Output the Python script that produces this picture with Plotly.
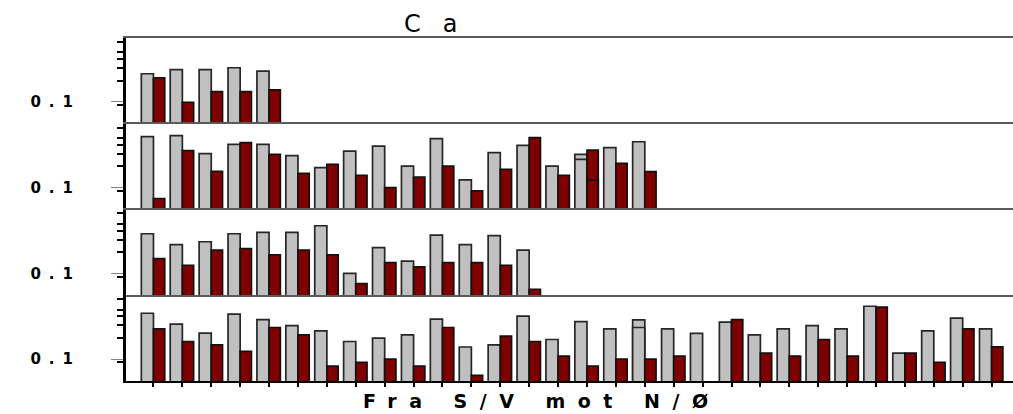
import plotly.graph_objects as go
from plotly.subplots import make_subplots

# ---- data (log scale) ----
panel1_grey = [0.249, 0.284, 0.284, 0.303, 0.271]
panel1_red = [0.218, 0.098, 0.139, 0.139, 0.147]

panel2_grey = [0.523, 0.540, 0.301, 0.407, 0.407, 0.282, 0.191, 0.328, 0.385,
               0.201, 0.490, 0.128, 0.311, 0.394, 0.201, 0.294, 0.366, 0.444]
panel2_red = [0.070, 0.332, 0.170, 0.430, 0.294, 0.159, 0.213, 0.149, 0.100,
              0.141, 0.201, 0.0896, 0.181, 0.506, 0.149, 0.339, 0.220, 0.168]
panel2_grey_dup = [None] * 15 + [0.250] + [None] * 2
panel2_red_dup = [None] * 15 + [0.128] + [None] * 2

panel3_grey = [0.362, 0.254, 0.279, 0.362, 0.378, 0.378, 0.470, 0.100, 0.230,
               0.149, 0.346, 0.254, 0.340, 0.213]
panel3_red = [0.161, 0.130, 0.213, 0.223, 0.183, 0.213, 0.183, 0.0716, 0.142,
              0.123, 0.142, 0.142, 0.130, 0.0595]

panel4_grey = [0.444, 0.311, 0.232, 0.430, 0.361, 0.297, 0.250, 0.177, 0.198, 0.220,
               0.366, 0.148, 0.159, 0.403, 0.189, 0.339, 0.267, 0.358, 0.267, 0.230,
               0.332, 0.220, 0.267, 0.297, 0.267, 0.557, 0.121, 0.250, 0.378, 0.267]
panel4_red = [0.267, 0.177, 0.159, 0.128, 0.279, 0.220, 0.0797, 0.0896, 0.100, 0.0797,
              0.279, 0.0587, 0.211, 0.177, 0.110, 0.0797, 0.100, 0.100, 0.110, None,
              0.361, 0.121, 0.110, 0.189, 0.110, 0.540, 0.121, 0.0896, 0.267, 0.149]
panel4_grey_dup = [None] * 17 + [0.279] + [None] * 12

panels = [
    (panel1_grey, panel1_red, None, None),
    (panel2_grey, panel2_red, panel2_grey_dup, panel2_red_dup),
    (panel3_grey, panel3_red, None, None),
    (panel4_grey, panel4_red, panel4_grey_dup, None),
]

title_text = "Ca"
xtitle_text = "Fra S/V mot N/Ø"
ytick_label = "0.1"

GREY = "#c0c0c0"
RED = "#800000"
EDGE = "#262626"
FONT = "DejaVu Sans, Liberation Sans, Arial"

fig = make_subplots(rows=4, cols=1, vertical_spacing=0)


def grey_bar(vals):
    return go.Bar(x=list(range(len(vals))), y=vals, marker=dict(color=GREY, line=dict(color=EDGE, width=1.7)),
                  offset=-0.42, width=0.42, showlegend=False, hoverinfo="y")


def red_bar(vals):
    return go.Bar(x=list(range(len(vals))), y=vals, marker=dict(color=RED, line=dict(color="#111111", width=1.7)),
                  offset=0.0, width=0.39, showlegend=False, hoverinfo="y")


for r, (g, rd, gd, rdd) in enumerate(panels, start=1):
    fig.add_trace(grey_bar(g), row=r, col=1)
    if gd is not None:
        fig.add_trace(grey_bar(gd), row=r, col=1)
    fig.add_trace(red_bar(rd), row=r, col=1)
    if rdd is not None:
        fig.add_trace(red_bar(rdd), row=r, col=1)

XR = [-0.95, 29.74]
YR = [-1.31, -0.0986]

for r in range(1, 5):
    last = r == 4
    fig.update_xaxes(row=r, col=1, range=XR, showgrid=False, zeroline=False,
                     showticklabels=False,
                     showline=True,
                     side="bottom" if last else "top",
                     linecolor="#000000" if last else "#5a5a5a",
                     linewidth=2 if last else 1.5,
                     mirror=(r == 3),
                     ticks="outside" if last else "",
                     tickvals=list(range(30)) if last else None,
                     ticklen=4, tickwidth=1.5, tickcolor="#000000")
    fig.update_yaxes(row=r, col=1, type="log", range=YR, showgrid=False, zeroline=False,
                     showline=True, linecolor="#000000", linewidth=3,
                     tickvals=[0.1],
                     ticktext=['<span style="letter-spacing:8px"><b>' + ytick_label + '</b></span>'],
                     ticks="outside", ticklen=12, tickwidth=1, tickcolor="#808080",
                     ticklabelstandoff=27,
                     tickfont=dict(family=FONT, size=15, color="#000000"),
                     minor=dict(tickvals=[0.09, 0.2, 0.3, 0.4, 0.5, 0.7, 0.8],
                                ticks="outside", ticklen=6, tickwidth=1.5, tickcolor="#000000"))

fig.update_layout(
    width=1013, height=414,
    margin=dict(l=126, r=0, t=38, b=33),
    barmode="overlay",
    plot_bgcolor="white", paper_bgcolor="white",
    showlegend=False,
    annotations=[
        dict(text='<span style="letter-spacing:22px">' + title_text + '</span>',
             xref="paper", yref="paper", x=(441 - 126) / 887, y=1.042, xanchor="center", yanchor="middle",
             showarrow=False, font=dict(family=FONT, size=24, color="#000000")),
        dict(text='<span style="letter-spacing:12.5px"><b>' + xtitle_text + '</b></span>',
             xref="paper", yref="paper", x=(542 - 126) / 887, y=-0.058, xanchor="center", yanchor="middle",
             showarrow=False, font=dict(family=FONT, size=19, color="#000000")),
    ],
)

fig.write_html("out.html", config={"displayModeBar": False},
               post_script="document.body.style.margin='0px';document.body.style.overflow='hidden';")
